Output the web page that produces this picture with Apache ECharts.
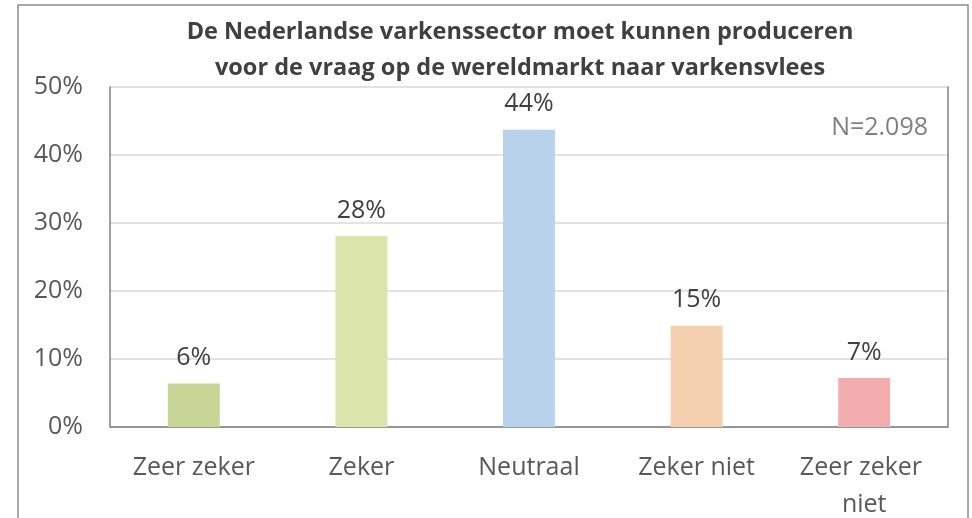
<!DOCTYPE html>
<html>
<head>
<meta charset="utf-8">
<script src="https://cdn.jsdelivr.net/npm/echarts@6/dist/echarts.min.js"></script>
<style>
  html, body { margin: 0; padding: 0; background: #ffffff; }
  #chart { width: 972px; height: 518px; }
</style>
</head>
<body>
<div id="chart"></div>
<script>
// Survey answers (percent of respondents)
const categories = ['Zeer zeker', 'Zeker', 'Neutraal', 'Zeker niet', 'Zeer zeker niet'];
const values = [6.4, 28.1, 43.7, 14.9, 7.2];
const barColors = ['#c9d596', '#dbe5ab', '#b8d2eb', '#f5d0ae', '#f2aeae'];
const titleLines = [
  'De Nederlandse varkenssector moet kunnen produceren',
  'voor de vraag op de wereldmarkt naar varkensvlees'
];
const sampleNote = 'N=2.098';
const yMin = 0, yMax = 50, yStep = 10;

const FONT = '"Open Sans", "Noto Sans", sans-serif';

const chart = echarts.init(document.getElementById('chart'), null, { renderer: 'canvas' });

chart.setOption({
  backgroundColor: '#ffffff',
  animation: false,
  title: {
    text: titleLines.join('\n'),
    left: 515,
    top: 9,
    textAlign: 'center',
    textStyle: {
      fontFamily: FONT,
      fontSize: 23.5,
      fontWeight: 'bold',
      color: '#404040',
      lineHeight: 36
    }
  },
  graphic: [
    {
      type: 'rect',
      shape: { x: 18, y: 5, width: 950, height: 530 },
      style: { fill: 'none', stroke: '#8c8c8c', lineWidth: 1.5 },
      z: 100
    },
    {
      type: 'text',
      right: 44,
      top: 115,
      style: {
        text: sampleNote,
        fontFamily: FONT,
        fontSize: 25,
        fill: '#808080'
      }
    }
  ],
  grid: {
    left: 110,
    right: 24,
    top: 87,
    bottom: 91,
    containLabel: false,
    outerBoundsMode: 'none'
  },
  xAxis: [
    {
      type: 'category',
      data: categories,
      position: 'bottom',
      axisLine: { show: true, lineStyle: { color: '#d9d9d9', width: 1.5 } },
      axisTick: { show: false },
      axisLabel: {
        fontFamily: FONT,
        fontSize: 25,
        color: '#595959',
        margin: 22,
        lineHeight: 37,
        width: 140,
        overflow: 'break',
        interval: 0
      }
    },
    {
      type: 'category',
      data: categories,
      position: 'top',
      axisLine: { show: true, lineStyle: { color: '#808080', width: 1.5 } },
      axisTick: { show: false },
      axisLabel: { show: false }
    }
  ],
  yAxis: [
    {
      type: 'value',
      min: yMin,
      max: yMax,
      interval: yStep,
      axisLine: { show: true, lineStyle: { color: '#808080', width: 1.5 } },
      axisTick: { show: false },
      splitLine: { show: true, lineStyle: { color: '#d9d9d9', width: 1.5 } },
      axisLabel: {
        fontFamily: FONT,
        fontSize: 25,
        color: '#595959',
        margin: 27,
        formatter: '{value}%'
      }
    },
    {
      type: 'value',
      min: yMin,
      max: yMax,
      interval: yStep,
      position: 'right',
      axisLine: { show: true, lineStyle: { color: '#808080', width: 1.5 } },
      axisTick: { show: false },
      splitLine: { show: false },
      axisLabel: { show: false }
    }
  ],
  series: [
    {
      type: 'bar',
      xAxisIndex: 0,
      yAxisIndex: 0,
      barWidth: '31%',
      data: values.map((v, i) => ({ value: v, itemStyle: { color: barColors[i] } })),
      label: {
        show: true,
        position: 'top',
        distance: 13,
        fontFamily: FONT,
        fontSize: 25,
        color: '#404040',
        formatter: p => Math.round(p.value) + '%'
      }
    }
  ]
});
</script>
</body>
</html>
